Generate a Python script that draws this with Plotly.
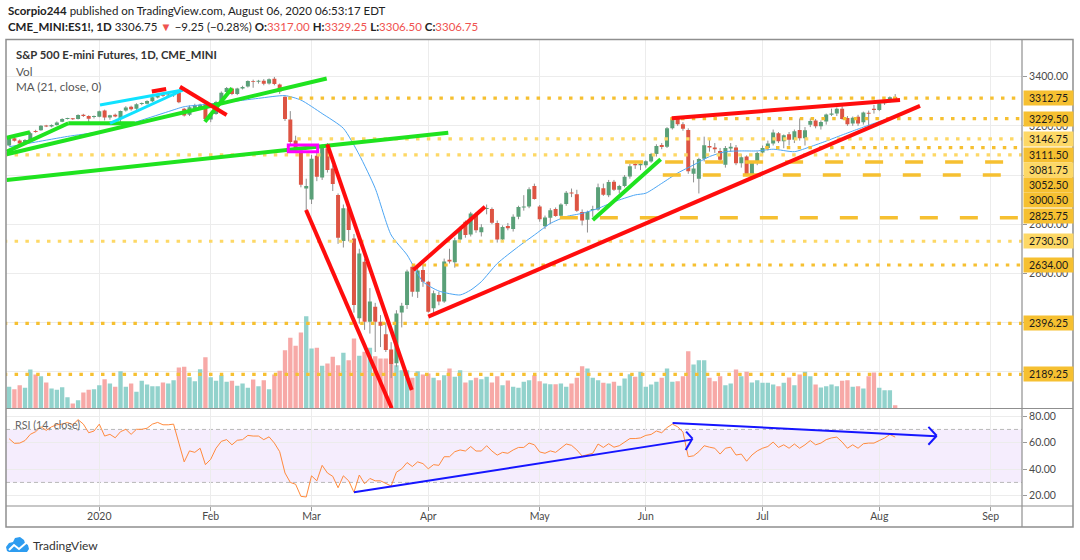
import plotly.graph_objects as go
import pandas as pd

# ---------------- data ----------------
holidays = ["2019-12-25", "2020-01-01", "2020-01-20", "2020-02-17",
            "2020-04-10", "2020-05-25", "2020-07-03", "2020-09-07"]
month_labels = ["2020", "Feb", "Mar", "Apr", "May", "Jun", "Jul", "Aug", "Sep"]

opens = [3120, 3150, 3140, 3128, 3141, 3178, 3182, 3201, 3197, 3203,
         3217, 3229, 3230, 3228, 3245, 3240, 3237, 3237, 3262, 3234,
         3245, 3232, 3262, 3278, 3270, 3289, 3290, 3300, 3315, 3325,
         3324, 3325, 3336, 3270, 3245, 3273, 3272, 3286, 3226, 3248,
         3300, 3338, 3352, 3330, 3352, 3360, 3382, 3380, 3384, 3372,
         3392, 3368, 3318, 3226, 3140, 3100, 2945, 2900, 3078, 2990,
         3109, 3027, 2919, 2732, 2865, 2742, 2417, 2647, 2403, 2464,
         2403, 2352, 2290, 2234, 2441, 2471, 2627, 2525, 2614, 2566,
         2458, 2512, 2485, 2655, 2645, 2738, 2810, 2758, 2840, 2767,
         2862, 2862, 2805, 2738, 2793, 2780, 2830, 2868, 2872, 2955,
         2872, 2792, 2826, 2862, 2834, 2882, 2928, 2922, 2850, 2818,
         2858, 2860, 2946, 2918, 2973, 2940, 2955, 2994, 3045, 3040,
         3040, 3055, 3085, 3122, 3115, 3190, 3232, 3207, 3183, 3005,
         2985, 3066, 3118, 3112, 3098, 3042, 3108, 3112, 3048, 3075,
         2990, 3049, 3092, 3110, 3128, 3170, 3137, 3166, 3143, 3183,
         3150, 3205, 3222, 3198, 3218, 3245, 3250, 3270, 3232, 3210,
         3237, 3215, 3253, 3270, 3265, 3292, 3303, 3317]
highs = [3152, 3158, 3145, 3146, 3176, 3184, 3203, 3204, 3206, 3218,
         3231, 3233, 3232, 3247, 3249, 3243, 3242, 3262, 3266, 3245,
         3250, 3262, 3280, 3282, 3292, 3295, 3304, 3318, 3329, 3330,
         3332, 3337, 3340, 3273, 3283, 3290, 3290, 3295, 3250, 3302,
         3340, 3358, 3356, 3355, 3363, 3385, 3388, 3387, 3390, 3393,
         3399, 3372, 3320, 3260, 3160, 3110, 2985, 3082, 3098, 3125,
         3130, 3040, 2925, 2880, 2880, 2760, 2700, 2660, 2540, 2480,
         2430, 2400, 2320, 2450, 2480, 2615, 2640, 2630, 2635, 2570,
         2530, 2525, 2660, 2700, 2745, 2790, 2815, 2850, 2848, 2800,
         2880, 2868, 2815, 2795, 2805, 2840, 2875, 2918, 2950, 2965,
         2878, 2835, 2865, 2868, 2885, 2935, 2945, 2940, 2860, 2855,
         2875, 2965, 2965, 2980, 2980, 2960, 3000, 3045, 3055, 3055,
         3060, 3090, 3125, 3130, 3195, 3235, 3240, 3215, 3190, 3060,
         3070, 3156, 3145, 3130, 3110, 3118, 3130, 3122, 3085, 3080,
         3050, 3095, 3120, 3140, 3185, 3175, 3165, 3175, 3185, 3230,
         3195, 3230, 3228, 3222, 3250, 3270, 3275, 3280, 3240, 3238,
         3245, 3258, 3262, 3285, 3295, 3305, 3320, 3329.25]
lows = [3117, 3136, 3124, 3125, 3138, 3172, 3180, 3195, 3194, 3201,
        3215, 3226, 3224, 3226, 3236, 3215, 3230, 3235, 3222, 3225,
        3235, 3215, 3258, 3262, 3265, 3284, 3287, 3297, 3312, 3318,
        3320, 3318, 3292, 3238, 3240, 3268, 3265, 3222, 3215, 3245,
        3296, 3333, 3325, 3325, 3348, 3356, 3355, 3372, 3365, 3368,
        3365, 3330, 3220, 3118, 3100, 2950, 2855, 2882, 2975, 2980,
        3010, 2935, 2720, 2705, 2730, 2440, 2395, 2370, 2355, 2280,
        2300, 2280, 2174, 2220, 2380, 2455, 2505, 2500, 2545, 2440,
        2435, 2470, 2480, 2640, 2623, 2725, 2745, 2750, 2765, 2750,
        2840, 2800, 2725, 2728, 2775, 2770, 2820, 2855, 2865, 2900,
        2810, 2780, 2800, 2830, 2825, 2875, 2910, 2850, 2795, 2766,
        2830, 2855, 2915, 2910, 2935, 2925, 2950, 2985, 3025, 3020,
        3030, 3050, 3075, 3105, 3110, 3185, 3200, 3180, 3005, 2970,
        2925, 3055, 3095, 3090, 3055, 3030, 3095, 3040, 3030, 2995,
        2985, 3040, 3080, 3100, 3120, 3130, 3109, 3120, 3130, 3140,
        3120, 3195, 3190, 3185, 3205, 3240, 3240, 3225, 3200, 3200,
        3200, 3205, 3195, 3250, 3260, 3285, 3295, 3306.5]
closes = [3148, 3139, 3128, 3142, 3170, 3177, 3200, 3198, 3203, 3214,
          3228, 3231, 3227, 3244, 3240, 3229, 3239, 3259, 3234, 3243,
          3238, 3260, 3275, 3268, 3288, 3292, 3301, 3316, 3325, 3324,
          3328, 3330, 3296, 3242, 3276, 3285, 3286, 3228, 3247, 3297,
          3335, 3354, 3330, 3352, 3358, 3382, 3380, 3383, 3371, 3390,
          3370, 3340, 3228, 3134, 3110, 2960, 2955, 3066, 2993, 3110,
          3020, 2963, 2745, 2865, 2776, 2471, 2681, 2403, 2485, 2403,
          2387, 2288, 2231, 2437, 2468, 2607, 2525, 2612, 2566, 2444,
          2519, 2485, 2648, 2648, 2735, 2782, 2756, 2843, 2775, 2787,
          2866, 2806, 2738, 2789, 2783, 2830, 2870, 2872, 2942, 2902,
          2820, 2827, 2857, 2833, 2880, 2928, 2926, 2855, 2815, 2850,
          2862, 2950, 2920, 2972, 2940, 2955, 2993, 3036, 3040, 3046,
          3056, 3085, 3118, 3114, 3190, 3230, 3207, 3188, 3015, 3027,
          3065, 3121, 3112, 3105, 3062, 3110, 3115, 3048, 3072, 3000,
          3049, 3090, 3110, 3128, 3173, 3137, 3162, 3143, 3178, 3150,
          3182, 3220, 3198, 3216, 3246, 3250, 3270, 3228, 3207, 3233,
          3210, 3254, 3250, 3265, 3292, 3303, 3316, 3306.75]
volume = [65, 58, 70, 62, 117, 102, 97, 78, 60, 56,
          64, 34, 15, 25, 48, 56, 58, 70, 88, 75,
          65, 112, 65, 75, 50, 83, 72, 67, 67, 78,
          75, 85, 123, 125, 94, 82, 118, 154, 94, 83,
          100, 80, 83, 68, 75, 62, 87, 67, 85, 58,
          102, 113, 175, 212, 188, 228, 277, 180, 182, 128,
          135, 155, 130, 167, 145, 210, 158, 170, 182, 157,
          150, 150, 150, 130, 115, 115, 92, 112, 102, 105,
          92, 85, 100, 120, 95, 115, 78, 85, 92, 88,
          95, 78, 97, 70, 84, 65, 62, 80, 85, 100,
          82, 75, 73, 73, 75, 65, 75, 92, 127, 120,
          92, 85, 77, 75, 80, 68, 90, 103, 95, 110,
          65, 72, 80, 92, 120, 80, 82, 97, 172, 132,
          145, 145, 92, 82, 97, 70, 75, 117, 97, 110,
          78, 85, 77, 77, 72, 67, 77, 93, 70, 102,
          110, 97, 72, 63, 67, 72, 67, 83, 85, 65,
          67, 60, 97, 108, 62, 55, 55, 10]
rsi = [63, 59.5, 59.7, 61.6, 66.3, 68.3, 72, 69.3, 72, 73.5,
       74, 75.3, 73.5, 77.4, 74, 67.5, 68.8, 74, 65, 66.3,
       63.7, 68.3, 70.1, 66.3, 70.1, 70.1, 70.9, 74, 75.3, 73.5,
       73.5, 74, 59.7, 45.5, 53.8, 52.7, 55.8, 43.4, 47.5, 55.8,
       61, 62.3, 58.4, 61.8, 62.3, 65.5, 65, 65, 62.3, 64.4,
       59.7, 53.2, 37.1, 30, 28.6, 19.5, 19, 35, 31.2, 42.9,
       37.1, 34.6, 26, 35, 31.2, 22.6, 35.6, 29, 33, 31.2,
       31.2, 29.4, 27.3, 37.7, 40.3, 45, 42, 45.5, 44.2, 40.3,
       43.4, 42.9, 49.4, 49.4, 53.2, 54.5, 53.7, 57.1, 53.7, 53.7,
       57.7, 53.7, 50.6, 52.7, 52, 54.5, 56.4, 56.4, 59.7, 58.4,
       53, 52, 53.8, 52.7, 55.8, 59, 58, 54.5, 49.9, 51.2,
       52, 59, 56.4, 59.2, 56.6, 57.7, 60.3, 63.1, 63.1, 63.6,
       65.5, 66.2, 68.8, 67.5, 71.4, 74, 72, 68, 49.4, 50.1,
       53.2, 57.7, 56.6, 55.8, 51.4, 55.8, 56.6, 50.7, 51.4, 46,
       50.7, 53.8, 55.8, 57.1, 60.5, 56.4, 58.4, 55.8, 59, 55.8,
       58.4, 61.6, 58.4, 59.7, 62.3, 63.6, 64.2, 60.5, 55.8, 58.4,
       55.8, 59.2, 59.7, 59.7, 61.6, 63.5, 66.2, 64.2]
ma_bar = [0, 5, 11, 17, 23, 30, 33, 36, 41, 47, 52, 55, 59, 63, 66, 69, 72, 75,
          78, 81, 85, 87, 89, 92, 96, 99, 102, 105, 108, 111, 114, 118, 120,
          123, 126, 129, 132, 135, 138, 141, 144, 148, 151, 154, 157, 160,
          163, 166, 167]
ma_val = [3115, 3134, 3157, 3176, 3210, 3258, 3278, 3285, 3296, 3312, 3323,
          3305, 3250, 3190, 3082, 2946, 2756, 2675, 2566, 2528, 2512, 2532,
          2566, 2640, 2709, 2756, 2803, 2831, 2844, 2864, 2891, 2919, 2926,
          2966, 3008, 3041, 3075, 3095, 3098, 3098, 3105, 3095, 3115, 3138,
          3163, 3187, 3210, 3231, 3237]
price_ticks = [2200, 2400, 2600, 2800, 3000, 3200, 3400]
price_tick_text = ["", "", "2600.00", "2800.00", "", "3200.00", "3400.00"]
rsi_ticks = [20, 40, 60, 80]
levels = [3312.75, 3229.50, 3146.75, 3111.50, 3081.75, 3052.50,
          3000.50, 2825.75, 2730.50, 2634.00, 2396.25, 2189.25]

# ---------------- styles / layout ----------------
DEEP, LIGHT = "#f6c031", "#fdd866"
# (start bar, line kind, colour, label vertical shift in px)
level_style = [(52.6, "dot", DEEP, 0), (124.6, "dot", DEEP, 0),
               (54.3, "dot", LIGHT, 0), (142.5, "dot", DEEP, -7),
               (-1, "dot", LIGHT, -15), (116.1, "dash", DEEP, -23),
               (123.2, "dash", DEEP, -25.6), (103.8, "dash", DEEP, 2.3),
               (-1, "dot", LIGHT, 0), (75.9, "dot", DEEP, 0),
               (-1, "dot", DEEP, 0), (-1, "dot", DEEP, 0)]

UP, DOWN = "#5aa078", "#dd5443"
VUP, VDOWN = "#92d2cc", "#f7a9a7"
GRID = "#ececec"
FONT = "Lato"
AX_FONT = dict(size=10.5, color="#4a4a4a", family=FONT)
XR = [-0.584, 190.9]
L_PX, R_PX, T_PX, B_PX = 6, 1022, 40, 506
SPLIT_PX = 408.5
split = (B_PX - SPLIT_PX) / (B_PX - T_PX)


def pxx(x):
    return (x - L_PX) / (R_PX - L_PX)


def pyy(y):
    return (B_PX - y) / (B_PX - T_PX)


sessions = [d for d in pd.bdate_range("2019-12-06", "2020-09-30")
            if d.strftime("%Y-%m-%d") not in holidays]
n = len(opens)
idx = list(range(n))
tickvals, seen = [], set()
for i, d in enumerate(sessions):
    if d.year == 2020 and d.month not in seen:
        seen.add(d.month)
        tickvals.append(i)
tickvals = tickvals[:len(month_labels)]

fig = go.Figure()

# volume (base axis, drawn underneath)
vcols = [VUP if closes[i] >= opens[i] else VDOWN for i in idx]
fig.add_trace(go.Bar(x=idx, y=volume, marker=dict(color=vcols, line=dict(width=0)),
                     width=0.82, xaxis="x", yaxis="y", hoverinfo="skip"))

# candles: wicks then bodies
wx, wy = [], []
ux, uy, dx, dy = [], [], [], []
for i in idx:
    wx += [i, i, None]
    wy += [lows[i], highs[i], None]
    top, bot = max(opens[i], closes[i]), min(opens[i], closes[i])
    if top - bot < 4:
        mid = (top + bot) / 2
        top, bot = mid + 2, mid - 2
    if closes[i] >= opens[i]:
        ux += [i, i, None]
        uy += [bot, top, None]
    else:
        dx += [i, i, None]
        dy += [bot, top, None]
fig.add_trace(go.Scatter(x=wx, y=wy, mode="lines", line=dict(color="#8e8e8e", width=1),
                         xaxis="x", yaxis="y3", hoverinfo="skip"))
fig.add_trace(go.Scatter(x=ux, y=uy, mode="lines", line=dict(color=UP, width=4),
                         xaxis="x", yaxis="y3", hoverinfo="skip"))
fig.add_trace(go.Scatter(x=dx, y=dy, mode="lines", line=dict(color=DOWN, width=4),
                         xaxis="x", yaxis="y3", hoverinfo="skip"))
fig.add_trace(go.Scatter(x=ma_bar, y=ma_val, mode="lines",
                         line=dict(color="#4ca5f3", width=1, shape="spline", smoothing=0.6),
                         xaxis="x", yaxis="y3", hoverinfo="skip"))
fig.add_trace(go.Scatter(x=idx, y=rsi, mode="lines", line=dict(color="#ff8a3d", width=1),
                         xaxis="x2", yaxis="y2", hoverinfo="skip"))

fig.update_layout(
    width=1080, height=560, margin=dict(l=L_PX, r=1080 - R_PX, t=T_PX, b=560 - B_PX),
    paper_bgcolor="white", plot_bgcolor="white", showlegend=False, barmode="overlay",
    font=dict(family=FONT, size=11, color="#4a4a4a"),
    xaxis=dict(domain=[0, 1], anchor="y", range=XR, tickvals=tickvals, showticklabels=False,
               showgrid=True, gridcolor=GRID, zeroline=False, ticks=""),
    xaxis2=dict(domain=[0, 1], anchor="y2", range=XR, tickvals=tickvals, ticktext=month_labels,
                showgrid=True, gridcolor=GRID, zeroline=False, ticks="outside", ticklen=4,
                tickcolor="#9a9a9a", tickfont=AX_FONT, ticklabelstandoff=-4),
    yaxis=dict(domain=[split, 1], range=[0, max(volume) * 3.99], visible=False),
    yaxis3=dict(overlaying="y", anchor="x", side="right", range=[2050.1, 3549.3],
                tickvals=price_ticks, ticktext=price_tick_text,
                showgrid=True, gridcolor=GRID, zeroline=False, ticks="outside", ticklen=4,
                tickcolor="#9a9a9a", tickfont=AX_FONT),
    yaxis2=dict(domain=[0, split], anchor="x2", side="right", range=[12.2, 85.8],
                tickvals=rsi_ticks, ticktext=[f"{v:.2f}" for v in rsi_ticks],
                showgrid=True, gridcolor=GRID, zeroline=False, ticks="outside", ticklen=4,
                tickcolor="#9a9a9a", tickfont=AX_FONT),
)

# RSI band and bounds
fig.add_shape(type="rect", xref="x2 domain", yref="y2", x0=0, x1=1, y0=30, y1=70,
              fillcolor="rgba(160, 80, 240, 0.10)", line=dict(width=0), layer="below")
for v in (30, 70):
    fig.add_shape(type="line", xref="x2 domain", yref="y2", x0=0, x1=1, y0=v, y1=v,
                  line=dict(color="#b8b8b8", width=1, dash="4px,3px"), layer="below")

# horizontal levels
for lv, (start, kind, col, ysh) in zip(levels, level_style):
    dash = "3.5px,7.3px" if kind == "dot" else "18px,22px"
    fig.add_shape(type="line", xref="x", yref="y3", x0=start, x1=XR[1], y0=lv, y1=lv,
                  line=dict(color=col, width=3.5 if kind == "dash" else 3.2, dash=dash))

# chart drawings (bar index, price)
GREEN, RED, CYAN = "#1fe31f", "#ff0d0d", "#10e2ff"
drawings = [
    (GREEN, 4, [(-0.45, 3151.8), (3.94, 3173.8)]),
    (GREEN, 4, [(-0.45, 3094.9), (11.16, 3210.4), (23.7, 3210.4)]),
    (GREEN, 4, [(-0.45, 3084.3), (59.86, 3392.7)]),
    (GREEN, 4, [(-0.45, 2979.7), (82.77, 3172.2)]),
    (GREEN, 4, [(36.9, 3216.9), (42.0, 3352.8)]),
    (GREEN, 4, [(110.0, 2817.0), (122.8, 3064.0)]),
    (CYAN, 3, [(17.13, 3284.9), (32.77, 3345.9)]),
    (CYAN, 3, [(19.02, 3210.4), (32.77, 3345.9)]),
    (RED, 4, [(26.9, 3339.8), (29.6, 3350.0)]),
    (RED, 4, [(32.2, 3359.3), (41.0, 3244.2)]),
    (RED, 4, [(55.96, 2857.7), (72.11, 2051.0)]),
    (RED, 4, [(59.97, 3125.0), (75.88, 2125.4)]),
    (RED, 4, [(76.18, 2613.6), (89.69, 2871.1)]),
    (RED, 4, [(79.0, 2423.6), (171.68, 3281.2)]),
    (RED, 4, [(124.88, 3230.8), (167.91, 3305.2)]),
]
for col, w, pts in drawings:
    for (x0, y0), (x1, y1) in zip(pts[:-1], pts[1:]):
        fig.add_shape(type="line", xref="x", yref="y3", x0=x0, y0=y0, x1=x1, y1=y1,
                      line=dict(color=col, width=w))
fig.add_shape(type="rect", xref="x", yref="y3", x0=52.62, x1=58.16, y0=3094.9, y1=3122.1,
              line=dict(color="#ff00ff", width=3), fillcolor="rgba(0,0,0,0)")

rsi_drawings = [
    [(65.0, 22.6), (128.6, 62.3)],
    [(127.6, 68.3), (128.8, 63.1), (127.5, 54.5)],
    [(125.05, 74.9), (174.69, 64.9)],
    [(173.26, 71.9), (174.82, 65.2), (173.26, 58.4)],
]
for pts in rsi_drawings:
    for (x0, y0), (x1, y1) in zip(pts[:-1], pts[1:]):
        fig.add_shape(type="line", xref="x2", yref="y2", x0=x0, y0=y0, x1=x1, y1=y1,
                      line=dict(color="#1515ff", width=2))

# frame
FR = "#8f8f8f"
fig.add_shape(type="rect", xref="paper", yref="paper", x0=pxx(6), x1=pxx(1073),
              y0=pyy(527), y1=pyy(39.5), line=dict(color=FR, width=1.5))
fig.add_shape(type="line", xref="paper", yref="paper", x0=1, x1=1, y0=pyy(527), y1=pyy(39.5),
              line=dict(color=FR, width=1.2))
fig.add_shape(type="line", xref="paper", yref="paper", x0=0, x1=pxx(1073), y0=split, y1=split,
              line=dict(color=FR, width=1.2))
fig.add_shape(type="line", xref="paper", yref="paper", x0=0, x1=pxx(1073), y0=0, y1=0,
              line=dict(color=FR, width=1.2))

# price labels on the axis
for lv, (start, kind, col, ysh) in zip(levels, level_style):
    fig.add_annotation(xref="paper", x=1, xanchor="left", xshift=1, yref="y3", y=lv,
                       yshift=ysh, yanchor="middle", text=f"{lv:.2f}", showarrow=False,
                       bgcolor=col, font=dict(size=10.5, color="#1a1a1a", family=FONT),
                       width=47, height=12, align="center", borderpad=1)

# header texts
RED_T = "#ef5350"
fig.add_annotation(xref="paper", yref="paper", x=pxx(6), y=pyy(11), xanchor="left",
                   yanchor="middle", showarrow=False,
                   text="<b>Scorpio244</b> published on TradingView.com, August 06, 2020 06:53:17 EDT",
                   font=dict(size=11.5, color="#222", family=FONT))
line2 = ("<b>CME_MINI:ES1!, 1D</b> 3306.75 <span style='color:%s'>▼</span> −9.25 (−0.28%%) "
         "<b>O:</b><span style='color:%s'>3317.00</span> <b>H:</b><span style='color:%s'>3329.25</span> "
         "<b>L:</b><span style='color:%s'>3306.50</span> <b>C:</b><span style='color:%s'>3306.75</span>"
         % (RED_T, RED_T, RED_T, RED_T, RED_T))
fig.add_annotation(xref="paper", yref="paper", x=pxx(6), y=pyy(27), xanchor="left",
                   yanchor="middle", showarrow=False, text=line2,
                   font=dict(size=11.5, color="#222", family=FONT))
fig.add_annotation(xref="paper", yref="paper", x=pxx(14), y=pyy(55), xanchor="left",
                   yanchor="middle", showarrow=False,
                   text="<b>S&P 500 E-mini Futures, 1D, CME_MINI</b>",
                   font=dict(size=11.3, color="#333", family=FONT))
for txt, yy in (("Vol", 70.5), ("MA (21, close, 0)", 86.5)):
    fig.add_annotation(xref="paper", yref="paper", x=pxx(14), y=pyy(yy), xanchor="left",
                       yanchor="middle", showarrow=False, text=txt,
                       font=dict(size=11.7, color="#555", family=FONT))
fig.add_annotation(xref="paper", yref="paper", x=pxx(13), y=pyy(424), xanchor="left",
                   yanchor="middle", showarrow=False, text="RSI (14, close)",
                   font=dict(size=10.7, color="#666", family=FONT))

# TradingView footer logo
def ppath(points, close=True):
    s = "M " + " L ".join(f"{pxx(x):.5f},{pyy(y):.5f}" for x, y in points)
    return s + (" Z" if close else "")


cloud = [(7, 551), (6, 547), (9, 543), (13, 542), (15, 538), (20, 537), (24, 540),
         (25, 543), (28, 545), (29, 549), (27, 552), (9, 552)]
fig.add_shape(type="path", xref="paper", yref="paper", path=ppath(cloud),
              fillcolor="#2d9cf0", line=dict(width=0))
fig.add_shape(type="path", xref="paper", yref="paper",
              path=ppath([(9, 550), (14, 545), (19, 549), (26, 543)], close=False),
              line=dict(color="white", width=2))
fig.add_annotation(xref="paper", yref="paper", x=pxx(31), y=pyy(545), xanchor="left",
                   yanchor="middle", showarrow=False, text="TradingView",
                   font=dict(size=12, color="#333", family=FONT))

fig.write_html("out.html", config={"displayModeBar": False},
               post_script="document.body.style.margin='0px';document.body.style.padding='0px';")
